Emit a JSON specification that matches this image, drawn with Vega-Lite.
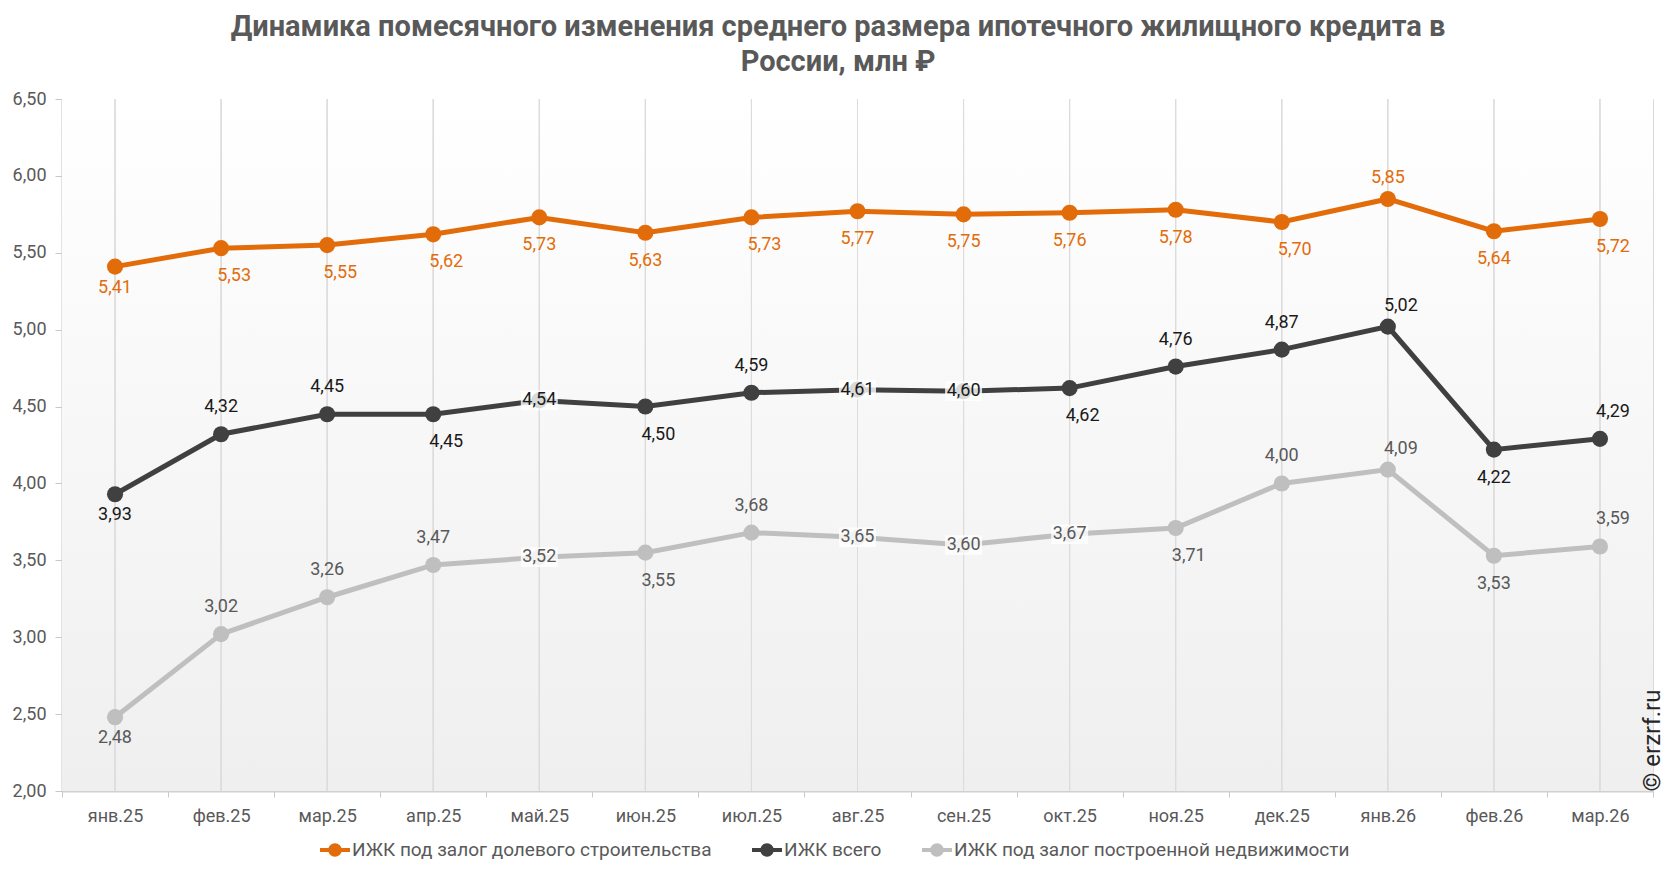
{
  "$schema": "https://vega.github.io/schema/vega-lite/v6.json",
  "width": 1591,
  "height": 692,
  "padding": {"left": 12, "top": 13, "right": 4, "bottom": 4},
  "background": "white",
  "title": {
    "text": ["Динамика помесячного изменения среднего размера ипотечного жилищного кредита в", "России, млн ₽"],
    "fontSize": 29,
    "fontWeight": "bold",
    "color": "#595959",
    "font": "Roboto",
    "anchor": "middle",
    "frame": "bounds",
    "lineHeight": 35,
    "offset": 13
  },
  "config": {
    "locale": {"number": {"decimal": ",", "thousands": " ", "grouping": [3], "currency": ["", " ₽"]}},
    "font": "Roboto",
    "view": {"stroke": "#d9d9d9", "strokeWidth": 1},
    "axis": {"labelFont": "Roboto", "labelFontSize": 18, "labelColor": "#595959", "titleFont": "Roboto"}
  },
  "datasets": {
    "bg": [{"lo": 2, "hi": 6.5}],
    "series": [
      {"m": "янв.25", "s": "ИЖК под залог долевого строительства", "v": 5.41},
      {"m": "фев.25", "s": "ИЖК под залог долевого строительства", "v": 5.53},
      {"m": "мар.25", "s": "ИЖК под залог долевого строительства", "v": 5.55},
      {"m": "апр.25", "s": "ИЖК под залог долевого строительства", "v": 5.62},
      {"m": "май.25", "s": "ИЖК под залог долевого строительства", "v": 5.73},
      {"m": "июн.25", "s": "ИЖК под залог долевого строительства", "v": 5.63},
      {"m": "июл.25", "s": "ИЖК под залог долевого строительства", "v": 5.73},
      {"m": "авг.25", "s": "ИЖК под залог долевого строительства", "v": 5.77},
      {"m": "сен.25", "s": "ИЖК под залог долевого строительства", "v": 5.75},
      {"m": "окт.25", "s": "ИЖК под залог долевого строительства", "v": 5.76},
      {"m": "ноя.25", "s": "ИЖК под залог долевого строительства", "v": 5.78},
      {"m": "дек.25", "s": "ИЖК под залог долевого строительства", "v": 5.70},
      {"m": "янв.26", "s": "ИЖК под залог долевого строительства", "v": 5.85},
      {"m": "фев.26", "s": "ИЖК под залог долевого строительства", "v": 5.64},
      {"m": "мар.26", "s": "ИЖК под залог долевого строительства", "v": 5.72},
      {"m": "янв.25", "s": "ИЖК всего", "v": 3.93},
      {"m": "фев.25", "s": "ИЖК всего", "v": 4.32},
      {"m": "мар.25", "s": "ИЖК всего", "v": 4.45},
      {"m": "апр.25", "s": "ИЖК всего", "v": 4.45},
      {"m": "май.25", "s": "ИЖК всего", "v": 4.54},
      {"m": "июн.25", "s": "ИЖК всего", "v": 4.50},
      {"m": "июл.25", "s": "ИЖК всего", "v": 4.59},
      {"m": "авг.25", "s": "ИЖК всего", "v": 4.61},
      {"m": "сен.25", "s": "ИЖК всего", "v": 4.60},
      {"m": "окт.25", "s": "ИЖК всего", "v": 4.62},
      {"m": "ноя.25", "s": "ИЖК всего", "v": 4.76},
      {"m": "дек.25", "s": "ИЖК всего", "v": 4.87},
      {"m": "янв.26", "s": "ИЖК всего", "v": 5.02},
      {"m": "фев.26", "s": "ИЖК всего", "v": 4.22},
      {"m": "мар.26", "s": "ИЖК всего", "v": 4.29},
      {"m": "янв.25", "s": "ИЖК под залог построенной недвижимости", "v": 2.48},
      {"m": "фев.25", "s": "ИЖК под залог построенной недвижимости", "v": 3.02},
      {"m": "мар.25", "s": "ИЖК под залог построенной недвижимости", "v": 3.26},
      {"m": "апр.25", "s": "ИЖК под залог построенной недвижимости", "v": 3.47},
      {"m": "май.25", "s": "ИЖК под залог построенной недвижимости", "v": 3.52},
      {"m": "июн.25", "s": "ИЖК под залог построенной недвижимости", "v": 3.55},
      {"m": "июл.25", "s": "ИЖК под залог построенной недвижимости", "v": 3.68},
      {"m": "авг.25", "s": "ИЖК под залог построенной недвижимости", "v": 3.65},
      {"m": "сен.25", "s": "ИЖК под залог построенной недвижимости", "v": 3.60},
      {"m": "окт.25", "s": "ИЖК под залог построенной недвижимости", "v": 3.67},
      {"m": "ноя.25", "s": "ИЖК под залог построенной недвижимости", "v": 3.71},
      {"m": "дек.25", "s": "ИЖК под залог построенной недвижимости", "v": 4.00},
      {"m": "янв.26", "s": "ИЖК под залог построенной недвижимости", "v": 4.09},
      {"m": "фев.26", "s": "ИЖК под залог построенной недвижимости", "v": 3.53},
      {"m": "мар.26", "s": "ИЖК под залог построенной недвижимости", "v": 3.59}
    ]
  },
  "data": {"name": "series"},
  "resolve": {"axis": {"y": "independent"}},
  "layer": [
    {
      "data": {"name": "bg"},
      "mark": {
        "type": "rect",
        "color": {
          "gradient": "linear", "x1": 0, "y1": 0, "x2": 0, "y2": 1,
          "stops": [{"offset": 0, "color": "#ffffff"}, {"offset": 1, "color": "#efefef"}]
        }
      },
      "encoding": {
        "y": {
          "field": "hi", "type": "quantitative",
          "scale": {"domain": [2, 6.5], "nice": false, "zero": false},
          "axis": {
            "orient": "right", "domain": false, "ticks": false, "labels": false, "grid": false,
            "zindex": 2,
            "title": "© erzrf.ru", "titleAngle": 270, "titleAnchor": "start", "titleAlign": "left",
            "titleBaseline": "middle", "titleFontSize": 24, "titleFontWeight": "normal",
            "titleColor": "#262626", "titlePadding": -1
          }
        },
        "y2": {"field": "lo"}
      }
    },
    {
      "mark": {"type": "rule", "color": "#dcdcdc", "strokeWidth": 1},
      "encoding": {
        "x": {"field": "m", "type": "nominal", "sort": null}
      }
    },
    {
      "mark": {"type": "line", "strokeWidth": 5},
      "encoding": {
        "x": {
          "field": "m", "type": "nominal", "sort": null,
          "scale": {"type": "band", "paddingInner": 0, "paddingOuter": 0},
          "axis": {
            "title": null, "labelAngle": 0, "grid": false, "tickBand": "extent",
            "labelAlign": "center",
            "tickSize": 6, "tickColor": "#c8c8c8", "domainColor": "#d0d0d0", "domainWidth": 2,
            "labelPadding": 19
          }
        },
        "y": {
          "field": "v", "type": "quantitative",
          "scale": {"domain": [2, 6.5], "nice": false, "zero": false},
          "axis": {
            "title": null, "grid": false, "values": [2, 2.5, 3, 3.5, 4, 4.5, 5, 5.5, 6, 6.5],
            "format": ".2f", "tickSize": 7, "tickColor": "#c8c8c8", "domainColor": "#c8c8c8",
            "domainWidth": 2, "labelPadding": 9
          }
        },
        "color": {
          "field": "s", "type": "nominal",
          "scale": {
            "domain": ["ИЖК под залог долевого строительства", "ИЖК всего", "ИЖК под залог построенной недвижимости"],
            "range": ["#e36c0a", "#404040", "#bfbfbf"]
          },
          "legend": {
            "orient": "none", "legendX": 258, "legendY": 736, "direction": "horizontal", "title": null,
            "labelFontSize": 19, "labelColor": "#595959", "labelFont": "Roboto", "labelLimit": 600,
            "symbolType": "M-1,-0.13H1V0.13H-1Z M0.45,0A0.45,0.45,0,1,1,-0.45,0A0.45,0.45,0,1,1,0.45,0Z",
            "symbolSize": 900, "symbolStrokeWidth": 0, "labelOffset": 2, "columnPadding": 40,
            "encode": {"symbols": {"update": {"fill": {"scale": "color", "field": "value"}, "stroke": {"value": "transparent"}, "opacity": {"value": 1}}}}
          }
        }
      }
    },
    {
      "mark": {"type": "point", "filled": true, "size": 260, "opacity": 1},
      "encoding": {
        "x": {"field": "m", "type": "nominal", "sort": null},
        "y": {"field": "v", "type": "quantitative", "axis": null},
        "color": {"field": "s", "type": "nominal"}
      }
    },
    {
      "transform": [{"filter": "(datum.s == 'ИЖК всего' && indexof(['май.25','авг.25','сен.25'], datum.m) >= 0) || (datum.s == 'ИЖК под залог построенной недвижимости' && indexof(['май.25','авг.25','сен.25','окт.25'], datum.m) >= 0)"}],
      "mark": {"type": "point", "filled": true, "shape": "M-1,-0.53H1V0.53H-1Z", "size": 1369, "color": "#ffffff", "opacity": 0.8},
      "encoding": {
        "x": {"field": "m", "type": "nominal", "sort": null},
        "y": {"field": "v", "type": "quantitative", "axis": null}
      }
    },
    {
      "transform": [{"filter": "(datum.s == 'ИЖК всего' && indexof(['май.25','авг.25','сен.25'], datum.m) >= 0) || (datum.s == 'ИЖК под залог построенной недвижимости' && indexof(['май.25','авг.25','сен.25','окт.25'], datum.m) >= 0)"}],
      "mark": {"type": "text", "fontSize": 18, "font": "Roboto", "baseline": "middle", "dy": 0},
      "encoding": {
        "x": {"field": "m", "type": "nominal", "sort": null},
        "y": {"field": "v", "type": "quantitative", "axis": null},
        "text": {"field": "v", "type": "quantitative", "format": ".2f"},
        "color": {"condition": [{"test": "datum.s == 'ИЖК всего'", "value": "#1a1a1a"}, {"test": "datum.s == 'ИЖК под залог построенной недвижимости'", "value": "#595959"}], "value": "#e36c0a"}
      }
    },
    {
      "transform": [{"filter": "(datum.s == 'ИЖК под залог долевого строительства' && datum.m == 'янв.26') || (datum.s == 'ИЖК всего' && indexof(['фев.25','мар.25','июл.25','ноя.25','дек.25','янв.26','мар.26'], datum.m) >= 0) || (datum.s == 'ИЖК под залог построенной недвижимости' && indexof(['фев.25','мар.25','апр.25','июл.25','дек.25','янв.26','мар.26'], datum.m) >= 0)"}],
      "mark": {
        "type": "text", "fontSize": 18, "font": "Roboto", "baseline": "middle",
        "dy": {"expr": "datum.m == 'янв.26' ? -21 : -27"},
        "dx": {"expr": "indexof(['янв.26','мар.26'], datum.m) >= 0 && datum.s != 'ИЖК под залог долевого строительства' ? 13 : 0"}
      },
      "encoding": {
        "x": {"field": "m", "type": "nominal", "sort": null},
        "y": {"field": "v", "type": "quantitative", "axis": null},
        "text": {"field": "v", "type": "quantitative", "format": ".2f"},
        "color": {"condition": [{"test": "datum.s == 'ИЖК всего'", "value": "#1a1a1a"}, {"test": "datum.s == 'ИЖК под залог построенной недвижимости'", "value": "#595959"}], "value": "#e36c0a"}
      }
    },
    {
      "transform": [{"filter": "(datum.s == 'ИЖК под залог долевого строительства' && datum.m != 'янв.26') || (datum.s == 'ИЖК всего' && indexof(['янв.25','апр.25','июн.25','окт.25','фев.26'], datum.m) >= 0) || (datum.s == 'ИЖК под залог построенной недвижимости' && indexof(['янв.25','июн.25','ноя.25','фев.26'], datum.m) >= 0)"}],
      "mark": {
        "type": "text", "fontSize": 18, "font": "Roboto", "baseline": "middle",
        "dy": {"expr": "datum.m == 'янв.25' ? 21 : 28"},
        "dx": {"expr": "((datum.s == 'ИЖК всего' && indexof(['апр.25','июн.25','окт.25'], datum.m) >= 0) || (datum.s == 'ИЖК под залог построенной недвижимости' && indexof(['июн.25','ноя.25'], datum.m) >= 0) || (datum.s == 'ИЖК под залог долевого строительства' && indexof(['фев.25','мар.25','апр.25','июл.25','дек.25','мар.26'], datum.m) >= 0)) ? 13 : 0"}
      },
      "encoding": {
        "x": {"field": "m", "type": "nominal", "sort": null},
        "y": {"field": "v", "type": "quantitative", "axis": null},
        "text": {"field": "v", "type": "quantitative", "format": ".2f"},
        "color": {"condition": [{"test": "datum.s == 'ИЖК всего'", "value": "#1a1a1a"}, {"test": "datum.s == 'ИЖК под залог построенной недвижимости'", "value": "#595959"}], "value": "#e36c0a"}
      }
    }
  ]
}
